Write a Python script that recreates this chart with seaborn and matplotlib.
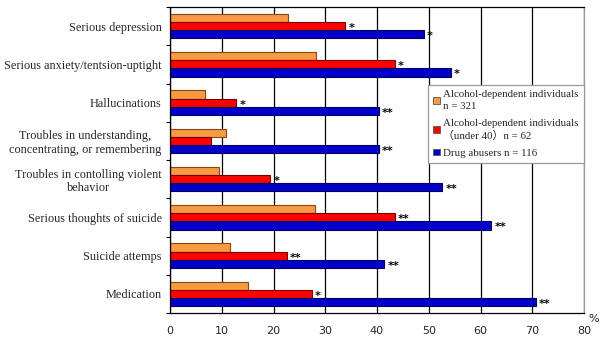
import pandas as pd
import matplotlib.pyplot as plt
import seaborn as sns
from matplotlib.ticker import FixedLocator

symptoms = [
    'Serious depression',
    'Serious anxiety/tentsion-uptight',
    'Hallucinations',
    'Troubles in understanding,\nconcentrating, or remembering',
    'Troubles in contolling violent\nbehavior',
    'Serious thoughts of suicide',
    'Suicide attemps',
    'Medication',
]
groups = [
    'Alcohol-dependent individuals\nn = 321',
    'Alcohol-dependent individuals\n（under 40）n = 62',
    'Drug abusers n = 116',
]
alcohol_all = [22.8, 28.3, 6.8, 10.9, 9.4, 28.0, 11.5, 15.0]
alcohol_u40 = [33.9, 43.5, 12.8, 8.0, 19.4, 43.5, 22.6, 27.4]
drug = [49.0, 54.3, 40.4, 40.4, 52.6, 62.1, 41.4, 70.7]
sig_u40 = ['*', '*', '*', '', '*', '**', '**', '*']
sig_drug = ['*', '*', '**', '**', '**', '**', '**', '**']

fills = ['#F79A42', '#FF0000', '#0000C8']
edges = ['#8B4513', '#7A0000', '#000060']

df = pd.DataFrame({
    'symptom': symptoms * 3,
    'group': [groups[0]] * 8 + [groups[1]] * 8 + [groups[2]] * 8,
    'value': alcohol_all + alcohol_u40 + drug,
})

sns.set_style('white')
serif = ['Liberation Serif', 'Noto Sans CJK JP', 'DejaVu Serif']
plt.rcParams['font.family'] = serif

fig = plt.figure(figsize=(6, 3.38), dpi=100)
ax = fig.add_axes([170 / 600, 1 - 313 / 338, 414 / 600, 306 / 338])

sns.barplot(data=df, y='symptom', x='value', hue='group', orient='h',
            palette=fills, width=0.64, linewidth=0.8, saturation=1,
            errorbar=None, ax=ax)

for cont, ec in zip(ax.containers, edges):
    for p in cont:
        p.set_edgecolor(ec)

# significance marks
for cont, marks in [(ax.containers[1], sig_u40), (ax.containers[2], sig_drug)]:
    for p, m in zip(cont, marks):
        if m:
            ax.text(p.get_width() + 0.6, p.get_y() + p.get_height() / 2 + 0.05, m,
                    ha='left', va='center', fontsize=8, fontweight='bold',
                    family='DejaVu Sans', color='black')

ax.set_xlim(0, 80)
ax.set_ylim(len(symptoms) - 0.5, -0.5)
ax.set_xticks(range(0, 81, 10))
ax.set_xticklabels([str(v) for v in range(0, 81, 10)], family='DejaVu Sans', fontsize=8)
ax.tick_params(axis='x', length=0, pad=9)
ax.set_yticks(range(len(symptoms)))
ax.set_yticklabels(symptoms, fontsize=8.8, multialignment='center')
ax.tick_params(axis='y', which='major', length=0, pad=6)
ax.yaxis.set_minor_locator(FixedLocator([i + 0.5 for i in range(-1, len(symptoms))]))
ax.tick_params(axis='y', which='minor', direction='out', length=3, width=0.8, color='black', left=True)
ax.set_xlabel('')
ax.set_ylabel('')

ax.xaxis.grid(True, color='black', linewidth=0.9)
ax.yaxis.grid(False)
ax.set_axisbelow(True)
for side in ['left', 'bottom', 'top']:
    ax.spines[side].set_color('black')
    ax.spines[side].set_linewidth(0.9)
ax.spines['right'].set_color('#999999')
ax.spines['right'].set_linewidth(0.9)

ax.text(1.01, -0.02, '%', transform=ax.transAxes, ha='left', va='center',
        family='DejaVu Sans', fontsize=8)

leg = ax.legend(loc='upper left', bbox_to_anchor=(0.623, 0.0, 0.377, 0.745),
                mode='expand', borderaxespad=0,
                fontsize=7.8, handlelength=0.6, handleheight=0.6, handletextpad=0.3,
                labelspacing=0.75, borderpad=0.5, fancybox=False, framealpha=1,
                edgecolor='#999999', frameon=True)
leg.get_frame().set_linewidth(0.9)
for t in leg.get_texts():
    t.set_linespacing(1.3)
for h in leg.legend_handles:
    h.set_edgecolor('#555555')
    h.set_linewidth(0.6)

fig.savefig('out.png', dpi=100)
